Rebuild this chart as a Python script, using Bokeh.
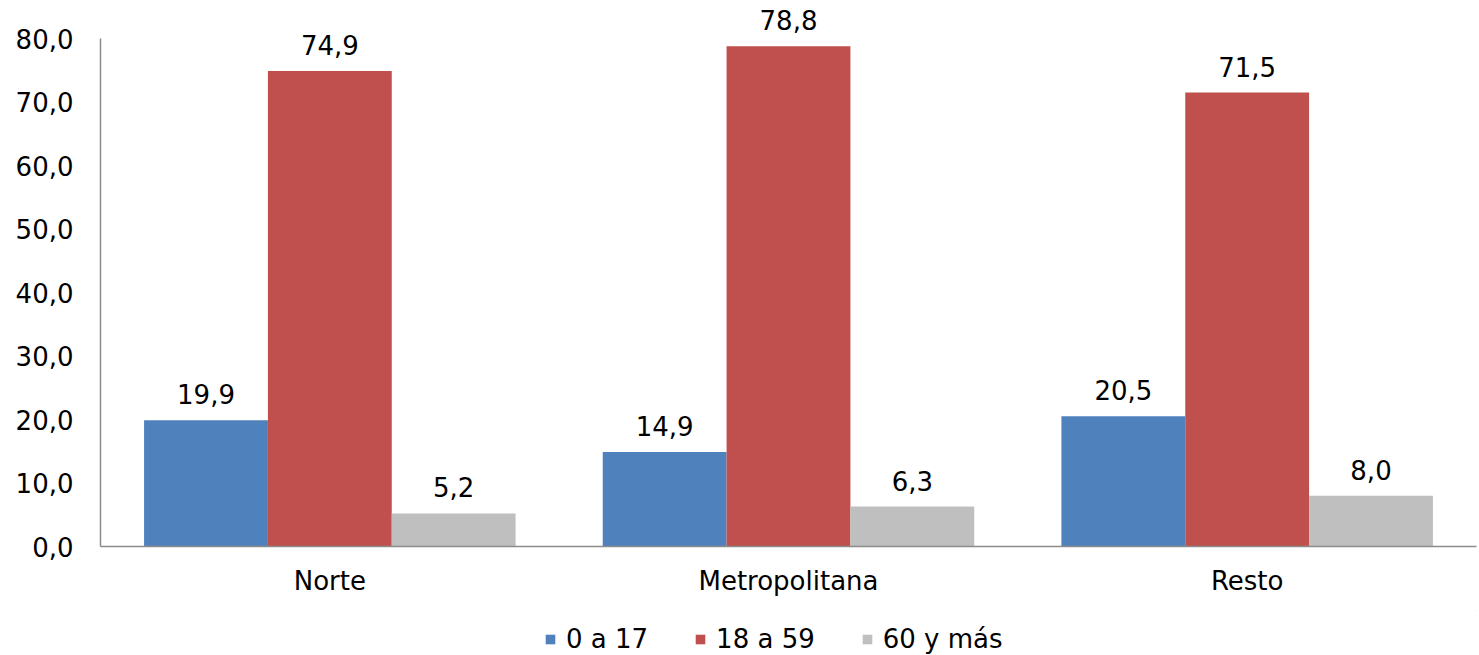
from bokeh.plotting import figure
from bokeh.models import (FactorRange, Range1d, ColumnDataSource, FixedTicker, Legend,
                          LegendItem, LabelSet)
from bokeh.layouts import column
from bokeh.transform import dodge
from bokeh.core.properties import value
from bokeh.embed import file_html
from bokeh.resources import INLINE

categories = ["Norte", "Metropolitana", "Resto"]
series_names = ["0 a 17", "18 a 59", "60 y más"]
v_0_17 = [19.9, 14.9, 20.5]
v_18_59 = [74.9, 78.8, 71.5]
v_60 = [5.2, 6.3, 8.0]
colors = ["#4F81BD", "#C0504D", "#BFBFBF"]
y_ticks = [0, 10, 20, 30, 40, 50, 60, 70, 80]

FONT = "DejaVu Sans"
FS = "26px"
W = 1479

def fmt(v):
    return f"{v:.1f}".replace(".", ",")

# frame extends above the 80 tick so that the value labels are not clipped
p = figure(x_range=FactorRange(factors=categories, range_padding=0),
           y_range=Range1d(0, 86), width=W, height=610,
           output_backend="svg", toolbar_location=None,
           min_border_left=100, min_border_right=3, min_border_top=0, min_border_bottom=64)

bw = 0.27
offsets = [-bw, 0.0, bw]
series = [v_0_17, v_18_59, v_60]
for name, vals, col, off in zip(series_names, series, colors, offsets):
    src = ColumnDataSource(dict(cat=categories, val=vals, lab=[fmt(v) for v in vals]))
    p.vbar(x=dodge("cat", off, range=p.x_range), top="val", width=bw, source=src,
           fill_color=col, line_color=None)
    p.add_layout(LabelSet(x=dodge("cat", off, range=p.x_range), y="val", text="lab", source=src,
                          text_align="center", text_baseline="alphabetic", y_offset=16,
                          text_font=value(FONT), text_font_size=FS, text_color="#000000"))

p.xgrid.visible = False
p.ygrid.visible = False
p.outline_line_color = None

p.yaxis.ticker = FixedTicker(ticks=y_ticks)
p.yaxis.bounds = (0, 80)
p.yaxis.major_label_overrides = {t: fmt(t) for t in y_ticks}
for ax in (p.xaxis[0], p.yaxis[0]):
    ax.axis_line_color = "#8C8C8C"
    ax.axis_line_width = 1.5
    ax.major_tick_line_color = None
    ax.minor_tick_line_color = None
    ax.major_tick_out = 0
    ax.major_tick_in = 0
    ax.minor_tick_out = 0
    ax.minor_tick_in = 0
    ax.major_label_text_font = FONT
    ax.major_label_text_font_size = FS
    ax.major_label_text_color = "#000000"
p.yaxis.major_label_standoff = 27
p.xaxis.major_label_standoff = 19

# legend strip below the chart
lg = figure(width=W, height=44, output_backend="svg", toolbar_location=None,
            x_range=Range1d(0, 1), y_range=Range1d(0, 1),
            x_axis_location=None, y_axis_location=None, min_border=0)
lg.xgrid.visible = False
lg.ygrid.visible = False
lg.outline_line_color = None
items = []
for name, col in zip(series_names, colors):
    r = lg.vbar(x=[5], top=[5], bottom=[4], width=0.1, fill_color=col, line_color=None)
    items.append(LegendItem(label=name, renderers=[r]))
legend = Legend(items=items, orientation="horizontal", location=(444, 0),
                label_text_font=FONT, label_text_font_size=FS, label_text_color="#000000",
                glyph_width=12, glyph_height=12, label_standoff=10, spacing=46,
                border_line_color=None, background_fill_alpha=0,
                margin=0, padding=0)
lg.add_layout(legend, "center")

layout = column(p, lg, spacing=0)
open("out.html", "w").write(file_html(layout, INLINE))
